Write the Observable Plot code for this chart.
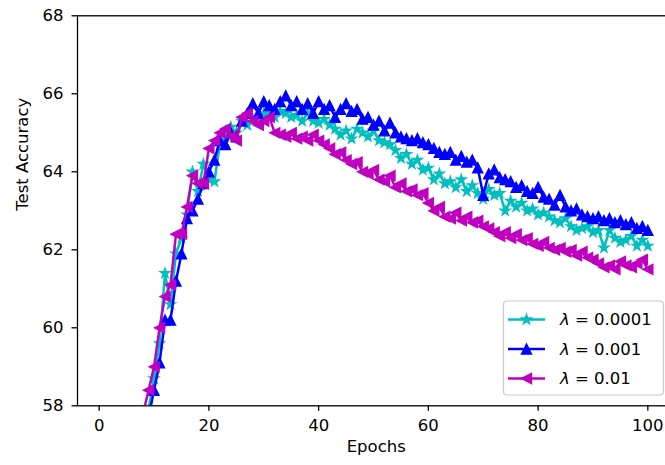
<!DOCTYPE html>
<html><head><meta charset="utf-8">
<script src="https://cdn.jsdelivr.net/npm/d3@7"></script>
<script src="https://cdn.jsdelivr.net/npm/@observablehq/plot@0.6"></script>
<style>html,body{margin:0;padding:0;background:#fff;overflow:hidden;} #chart svg{display:block;overflow:visible;}</style>
</head><body><div id="chart"></div>
<script>
// ---- data ----
const lambdaValues = ["0.0001", "0.001", "0.01"];
const seriesColors = ["#00bfbf", "#0000ff", "#bf00bf"];
const xTicks = [0, 20, 40, 60, 80, 100];
const yTicks = [58, 60, 62, 64, 66, 68];
const xLabel = "Epochs";
const yLabel = "Test Accuracy";

const acc0001 = [
  40.5, 46.0, 49.8, 52.5, 54.4, 55.7, 56.6, 57.3, 57.9, 58.7,
  59.6, 61.4, 60.6, 61.9, 62.3, 62.9, 64.0, 63.5, 64.2, 63.8,
  63.75, 64.7, 64.9, 65.15, 65.0, 65.3, 65.2, 65.35, 65.4, 65.5,
  65.45, 65.4, 65.55, 65.5, 65.4, 65.45, 65.3, 65.5, 65.3, 65.25,
  65.35, 65.2, 65.1, 64.95, 65.05, 64.85, 65.1, 65.0, 64.9, 65.05,
  64.8, 64.75, 64.7, 64.55, 64.35, 64.45, 64.2, 64.3, 64.05, 64.1,
  63.8, 63.95, 63.7, 63.75, 63.6, 63.8, 63.5, 63.65, 63.45, 63.3,
  63.55, 63.4, 63.45, 63.0, 63.25, 63.1, 63.2, 63.0, 63.05, 62.9,
  62.95, 62.85, 62.75, 62.7, 62.8, 62.6, 62.5, 62.55, 62.6, 62.45,
  62.5, 62.05, 62.5, 62.3, 62.2, 62.25, 62.35, 62.1, 62.25, 62.1
];
const acc001 = [
  39.5, 45.2, 49.0, 51.8, 53.8, 55.2, 56.2, 57.0, 57.7, 58.4,
  59.1, 60.2, 60.2, 61.2, 61.9, 62.8, 63.0, 63.3, 63.7, 64.0,
  64.3, 64.8, 64.7, 65.0, 64.9, 65.3, 65.5, 65.75, 65.5, 65.8,
  65.7, 65.6, 65.8, 65.95, 65.7, 65.8, 65.6, 65.75, 65.5, 65.8,
  65.6, 65.7, 65.4, 65.6, 65.75, 65.55, 65.6, 65.35, 65.4, 65.2,
  65.3, 65.05, 65.25, 65.0, 64.9, 64.85, 64.8, 64.85, 64.75, 64.7,
  64.6, 64.5, 64.45, 64.5, 64.3, 64.4, 64.25, 64.3, 64.1, 63.4,
  63.95, 64.05, 63.85, 63.8, 63.75, 63.6, 63.65, 63.5, 63.45, 63.6,
  63.35, 63.3, 63.15, 63.4, 63.1, 63.0, 63.05, 62.9, 62.85, 62.8,
  62.85, 62.75, 62.8, 62.7, 62.75, 62.65, 62.7, 62.55, 62.6, 62.5
];
const acc01 = [
  41.0, 46.8, 50.5, 53.2, 55.0, 56.3, 57.1, 57.8, 58.4, 59.0,
  60.0, 60.8, 61.1, 62.4, 62.4, 63.1, 63.9, 63.7, 63.7, 64.6,
  64.8, 65.0, 65.1, 64.9, 64.8, 65.4, 65.5, 65.3, 65.2, 65.3,
  65.4, 65.0, 64.95, 64.9, 65.0, 64.85, 64.9, 64.8, 64.95, 64.8,
  64.7, 64.6, 64.45, 64.5, 64.3, 64.2, 64.25, 64.0, 63.95, 64.05,
  63.8, 63.75, 63.9, 63.6, 63.7, 63.5, 63.55, 63.4, 63.45, 63.2,
  63.0, 63.1, 62.85, 62.8, 62.95, 62.75, 62.85, 62.7, 62.75, 62.6,
  62.55, 62.45, 62.35, 62.45, 62.3, 62.4, 62.25, 62.3, 62.15, 62.1,
  62.2, 62.05, 62.0, 62.05, 61.95, 62.0, 61.85, 61.95, 61.8, 61.75,
  61.65, 61.55, 61.6, 61.5, 61.7, 61.6, 61.55, 61.65, 61.75, 61.5
];
const epochs = acc0001.map((_, i) => i + 1);

// ---- matplotlib-like marker shapes ----
const starSym = {draw(ctx, size) {
  const R = Math.sqrt(size / Math.PI), r = R * 0.381966;
  for (let i = 0; i < 10; i++) {
    const a = -Math.PI / 2 + i * Math.PI / 5, rr = i % 2 ? r : R;
    const x = rr * Math.cos(a), y = rr * Math.sin(a);
    if (i) ctx.lineTo(x, y); else ctx.moveTo(x, y);
  }
  ctx.closePath();
}};
const triUpSym = {draw(ctx, size) {
  const R = Math.sqrt(size / Math.PI);
  ctx.moveTo(0, -R); ctx.lineTo(-R, R); ctx.lineTo(R, R); ctx.closePath();
}};
const triLeftSym = {draw(ctx, size) {
  const R = Math.sqrt(size / Math.PI);
  ctx.moveTo(-R, 0); ctx.lineTo(R, -R); ctx.lineTo(R, R); ctx.closePath();
}};
const symbols = [starSym, triUpSym, triLeftSym];

const series = [acc0001, acc001, acc01].map((vals, k) =>
  vals.map((v, i) => ({epoch: epochs[i], acc: v, k})));

const FONT = "DejaVu Sans";
const FS = 16.5;
const marks = [];
series.forEach((data, k) => {
  marks.push(Plot.line(data, {x: "epoch", y: "acc", stroke: seriesColors[k], strokeWidth: 2.5, clip: true, strokeLinejoin: "round"}));
  marks.push(Plot.dot(data, {x: "epoch", y: "acc", symbol: symbols[k], r: 5, fill: seriesColors[k], stroke: seriesColors[k], strokeWidth: 1.4, clip: true}));
});

const chart = Plot.plot({
  width: 665, height: 465,
  marginLeft: 77, marginTop: 15.3, marginBottom: 59.7, marginRight: -9.5,
  style: {fontFamily: FONT, fontSize: FS + "px", color: "#000", background: "#fff"},
  x: {domain: [-3.95, 104.95], range: [77, 674.5]},
  y: {domain: [58, 68], range: [405.3, 15.3]},
  marks: [
    ...marks,
    Plot.frame({stroke: "#000", strokeWidth: 1.3}),
    Plot.axisX({ticks: xTicks, tickSize: 5.5, tickPadding: 8, label: null, strokeWidth: 1.3, fontSize: FS}),
    Plot.axisY({ticks: yTicks, tickSize: 5.5, tickPadding: 8.5, label: null, strokeWidth: 1.3, fontSize: FS}),
    Plot.text([xLabel], {frameAnchor: "bottom", dy: 46.4, fontSize: FS, fill: "#000"}),
    Plot.text([yLabel], {frameAnchor: "left", dx: -55, rotate: -90, fontSize: FS, fill: "#000"})
  ]
});
document.getElementById("chart").appendChild(chart);

// ---- legend (lower right, matplotlib style) ----
const svg = d3.select(chart);
const lg = svg.append("g").attr("font-family", FONT).attr("font-size", FS).attr("text-anchor", "start");
lg.append("rect").attr("x", 503.5).attr("y", 301).attr("width", 160).attr("height", 94)
  .attr("rx", 3.5).attr("fill", "#fff").attr("fill-opacity", 0.8).attr("stroke", "#cccccc").attr("stroke-width", 1.2);
const rowY = [319.5, 349, 378.5];
lambdaValues.forEach((lv, k) => {
  const y = rowY[k];
  lg.append("line").attr("x1", 508).attr("x2", 545).attr("y1", y).attr("y2", y)
    .attr("stroke", seriesColors[k]).attr("stroke-width", 2.5);
  lg.append("path").attr("transform", `translate(526.5,${y})`)
    .attr("d", d3.symbol().type(symbols[k]).size(Math.PI * 25)())
    .attr("fill", seriesColors[k]).attr("stroke", seriesColors[k]).attr("stroke-width", 1.4);
  const t = lg.append("text").attr("x", 560).attr("y", y).attr("dy", "0.36em")
    .attr("fill", "#000").attr("text-anchor", "start");
  t.append("tspan").attr("font-style", "italic").text("λ");
  t.append("tspan").text(" = " + lv);
});
</script>
</body></html>
